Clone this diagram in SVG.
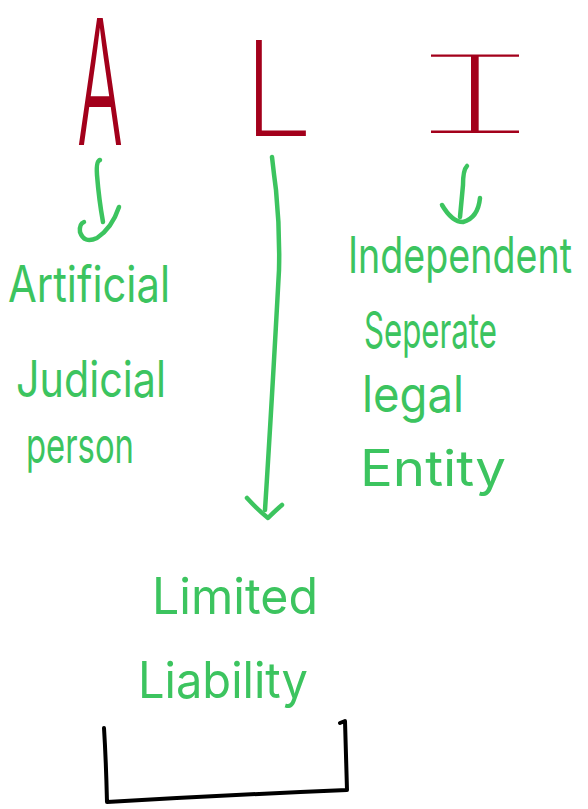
<svg xmlns="http://www.w3.org/2000/svg" width="588" height="809" viewBox="0 0 588 809">
<style>
.big{fill:#a3001b;font-family:Inter,"DejaVu Sans",sans-serif}
.ser{fill:#a3001b;font-family:Inter,"DejaVu Sans",sans-serif;font-weight:100;font-feature-settings:"cv08" 1}
.lbl{fill:#3cc45f;font-family:Inter,"Liberation Sans",sans-serif;font-weight:400;font-size:50px}
.ln{fill:none;stroke:#3cc45f;stroke-width:4.5;stroke-linecap:round;stroke-linejoin:round}
.br{fill:none;stroke:#000;stroke-width:4;stroke-linecap:round;stroke-linejoin:round}
</style>
<rect width="588" height="809" fill="#fff"/>
<g id="node-A"><text class="big" x="77" y="145" font-size="175" font-weight="300" textLength="46" lengthAdjust="spacingAndGlyphs">A</text></g>
<g id="node-L"><text class="big" x="243" y="136" font-size="132" font-weight="200" textLength="70" lengthAdjust="spacingAndGlyphs">L</text></g>
<g id="node-I"><text class="ser" x="411" y="133" font-size="108" textLength="128" lengthAdjust="spacingAndGlyphs">I</text></g>
<g id="node-artificial">
<text class="lbl" x="8" y="302" textLength="162" lengthAdjust="spacingAndGlyphs">Artificial</text>
<text class="lbl" x="16" y="397" textLength="150" lengthAdjust="spacingAndGlyphs">Judicial</text>
<text class="lbl" x="26" y="463" textLength="108" lengthAdjust="spacingAndGlyphs">person</text>
</g>
<g id="node-independent">
<text class="lbl" x="348" y="273" textLength="224" lengthAdjust="spacingAndGlyphs">Independent</text>
<text class="lbl" x="364" y="348" textLength="133" lengthAdjust="spacingAndGlyphs">Seperate</text>
<text class="lbl" x="362" y="412" textLength="102" lengthAdjust="spacingAndGlyphs">legal</text>
<text class="lbl" x="360" y="486" textLength="146" lengthAdjust="spacingAndGlyphs">Entity</text>
</g>
<g id="node-limited">
<text class="lbl" x="152" y="614" textLength="166" lengthAdjust="spacingAndGlyphs">Limited</text>
<text class="lbl" x="138" y="698" textLength="170" lengthAdjust="spacingAndGlyphs">Liability</text>
</g>
<g id="node-bracket"><path class="br" d="M104,728 Q106,760 107,802 Q225,795 347,790 Q346,755 345,721 L340,723"/></g>
<g id="connectors">
<path class="ln" d="M100,160 Q96,161 97,175 Q99,200 103,222"/>
<path class="ln" d="M84,222 Q79,224 80,232 Q84,244 97,238 Q112,228 119,207"/>
<path class="ln" d="M272,157 Q274,175 276,190 Q280,230 279,270 Q272,400 265,510"/>
<path class="ln" d="M247,498 Q258,510 268,518 Q276,510 282,505"/>
<path class="ln" d="M467,166 Q463,170 463,185 L460,217"/>
<path class="ln" d="M442,205 Q452,222 463,222 Q478,218 480,198"/>
</g>
</svg>
